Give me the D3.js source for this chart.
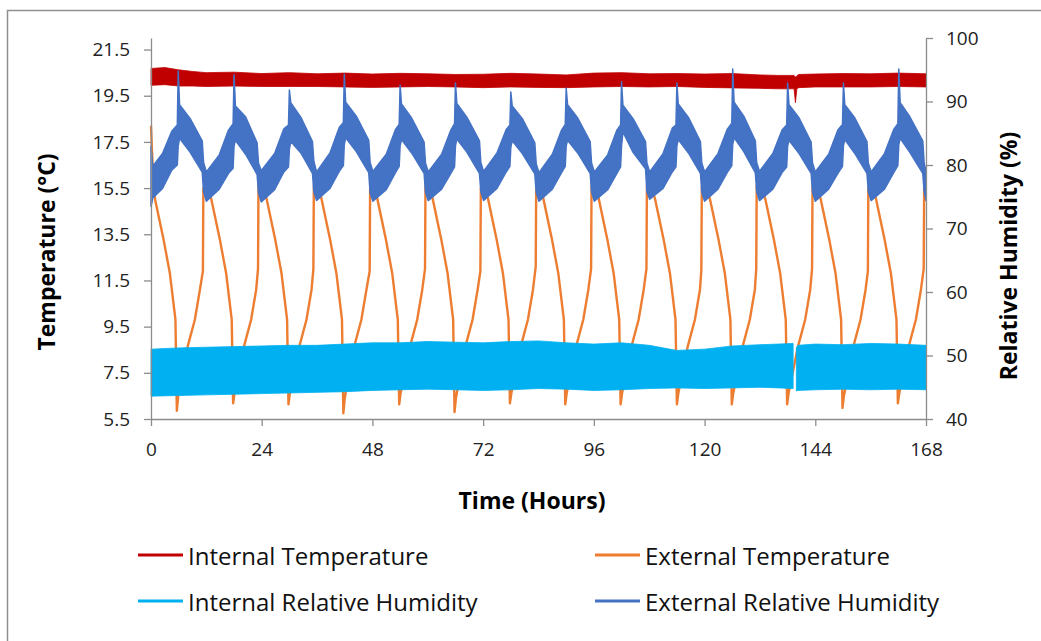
<!DOCTYPE html>
<html>
<head>
<meta charset="utf-8">
<script src="https://cdn.jsdelivr.net/npm/d3@7"></script>
<style>
body { margin: 0; background: #fff; }
text { font-family: "Open Sans", "Noto Sans", sans-serif; }
</style>
</head>
<body>
<svg id="chart" width="1041" height="641"></svg>
<script>
const timeTicks = [0, 24, 48, 72, 96, 120, 144, 168];
const tempTicks = [5.5, 7.5, 9.5, 11.5, 13.5, 15.5, 17.5, 19.5, 21.5];
const rhTicks = [40, 50, 60, 70, 80, 90, 100];

// internal temperature, read as a band: [hour, low, high] in degC
const internalTemp = [
  [0, 19.95, 20.68], [3, 19.98, 20.72], [6, 19.92, 20.62], [9, 19.92, 20.55], [12, 19.9, 20.5],
  [18, 19.92, 20.52], [24, 19.9, 20.46], [30, 19.9, 20.5], [36, 19.9, 20.45], [42, 19.88, 20.48],
  [48, 19.86, 20.44], [54, 19.88, 20.47], [60, 19.9, 20.45], [66, 19.88, 20.42], [72, 19.85, 20.43],
  [78, 19.88, 20.47], [84, 19.86, 20.44], [90, 19.85, 20.4], [96, 19.88, 20.48], [102, 19.9, 20.5],
  [108, 19.88, 20.45], [114, 19.9, 20.46], [120, 19.86, 20.44], [126, 19.84, 20.46], [132, 19.82, 20.4],
  [136, 19.8, 20.38], [139.4, 19.8, 20.38], [139.7, 19.2, 20.3], [140.0, 19.8, 20.36], [140.4, 19.85, 20.42],
  [144, 19.88, 20.44], [150, 19.88, 20.46], [156, 19.88, 20.45], [162, 19.9, 20.48], [168, 19.88, 20.45]
];

// external temperature: [hour, degC]
const externalTemp = [
  [0, 18.2], [0.4, 16.2],
  [0.9, 15.0], [2.7, 13.3], [4.1, 11.8], [5.0, 10.3], [5.3, 9.8], [5.6, 5.86], [5.9, 6.5], [6.5, 7.1], [7.9, 8.6], [9.5, 9.8], [10.6, 11.1], [11.25, 11.9], [11.35, 15.5], [12.1, 15.7],
  [13.1, 15.0], [14.9, 13.3], [16.3, 11.8], [17.2, 10.3], [17.5, 9.8], [17.8, 6.18], [18.1, 6.6], [18.7, 7.2], [20.1, 8.6], [21.7, 9.8], [22.8, 11.1], [23.2, 12.0], [23.3, 15.6], [24.1, 15.7],
  [25.1, 15.0], [26.9, 13.3], [28.3, 11.8], [29.2, 10.3], [29.5, 9.8], [29.8, 6.14], [30.1, 6.6], [30.7, 7.2], [32.1, 8.6], [33.7, 9.8], [34.8, 11.1], [35.2, 12.0], [35.3, 15.6], [36.1, 15.7],
  [37.0, 15.0], [38.8, 13.3], [40.2, 11.8], [41.1, 10.3], [41.4, 9.8], [41.7, 5.75], [42.0, 6.4], [42.6, 7.1], [44.0, 8.6], [45.6, 9.8], [46.7, 11.1], [47.4, 11.9], [47.5, 15.5], [48.3, 15.7],
  [49.1, 15.0], [50.9, 13.3], [52.3, 11.8], [53.2, 10.3], [53.5, 9.8], [53.8, 6.14], [54.1, 6.6], [54.7, 7.2], [56.1, 8.6], [57.7, 9.8], [58.8, 11.1], [59.4, 12.0], [59.5, 15.6], [60.3, 15.7],
  [61.1, 15.0], [62.9, 13.3], [64.3, 11.8], [65.2, 10.3], [65.5, 9.8], [65.8, 5.80], [66.1, 6.4], [66.7, 7.1], [68.1, 8.6], [69.7, 9.8], [70.8, 11.1], [71.4, 11.9], [71.5, 15.5], [72.3, 15.7],
  [73.1, 15.0], [74.9, 13.3], [76.3, 11.8], [77.2, 10.3], [77.5, 9.8], [77.8, 6.18], [78.1, 6.6], [78.7, 7.2], [80.1, 8.6], [81.7, 9.8], [82.8, 11.1], [83.4, 12.1], [83.5, 15.6], [84.3, 15.7],
  [85.1, 15.0], [86.9, 13.3], [88.3, 11.8], [89.2, 10.3], [89.5, 9.8], [89.8, 6.14], [90.1, 6.6], [90.7, 7.2], [92.1, 8.6], [93.7, 9.8], [94.8, 11.1], [95.4, 12.0], [95.5, 15.6], [96.3, 15.7],
  [97.1, 15.0], [98.9, 13.3], [100.3, 11.8], [101.2, 10.3], [101.5, 9.8], [101.8, 6.14], [102.1, 6.6], [102.7, 7.2], [104.1, 8.6], [105.7, 9.8], [106.8, 11.1], [107.4, 12.0], [107.5, 15.6], [108.3, 15.7],
  [109.3, 15.0], [111.1, 13.3], [112.5, 11.8], [113.4, 10.3], [113.7, 9.8], [114.0, 6.14], [114.3, 6.6], [114.9, 7.2], [116.3, 8.6], [117.9, 9.8], [119.0, 11.1], [119.3, 11.95], [119.4, 15.55], [120.2, 15.7],
  [121.2, 15.0], [123.0, 13.3], [124.4, 11.8], [125.3, 10.3], [125.6, 9.8], [125.9, 6.14], [126.2, 6.6], [126.8, 7.2], [128.2, 8.6], [129.8, 9.8], [130.9, 11.1], [131.2, 12.0], [131.3, 15.6], [132.1, 15.7],
  [133.2, 15.0], [135.0, 13.3], [136.4, 11.8], [137.3, 10.3], [137.6, 9.8], [137.9, 6.14], [138.2, 6.6], [138.8, 7.2], [140.2, 8.6], [141.8, 9.8], [142.9, 11.1], [143.3, 12.0], [143.4, 15.6], [144.2, 15.7],
  [145.2, 15.0], [147.0, 13.3], [148.4, 11.8], [149.3, 10.3], [149.6, 9.8], [149.9, 5.98], [150.2, 6.5], [150.8, 7.1], [152.2, 8.6], [153.8, 9.8], [154.9, 11.1], [155.4, 11.9], [155.5, 15.5], [156.3, 15.7],
  [157.2, 15.0], [159.0, 13.3], [160.4, 11.8], [161.3, 10.3], [161.6, 9.8], [161.9, 6.18], [162.2, 6.6], [162.8, 7.2], [164.2, 8.6], [165.8, 9.8], [166.9, 11.1], [167.5, 12.0], [167.6, 15.5], [168, 15.6]
];

// internal relative humidity band: [hour, low, high] in %, null = logger gap
const internalRH = [
  [0, 43.6, 51.0], [6, 43.7, 51.2], [12, 43.8, 51.3], [18, 43.9, 51.4], [24, 44.0, 51.5],
  [30, 44.1, 51.6], [36, 44.2, 51.6], [42, 44.3, 51.8], [48, 44.5, 52.0], [54, 44.6, 52.0],
  [60, 44.7, 52.2], [66, 44.6, 52.1], [72, 44.5, 52.0], [78, 44.6, 52.2], [84, 44.8, 52.3],
  [90, 44.7, 52.0], [96, 44.5, 51.8], [102, 44.6, 52.0], [108, 44.8, 51.6], [114, 44.9, 50.8],
  [120, 44.8, 51.0], [126, 44.9, 51.5], [132, 45.0, 51.7], [136, 44.9, 51.8], [139.2, 44.8, 51.9],
  [139.5, null, null],
  [139.9, 44.4, 51.2], [140.2, 44.5, 51.6], [144, 44.6, 51.8], [150, 44.7, 51.7], [156, 44.6, 51.9],
  [162, 44.7, 51.8], [168, 44.6, 51.6]
];

// external relative humidity band: [hour, low, high] in %
const externalRH = [
  [0, 73.5, 83.0], [0.4, 74.8, 79.8], [2.5, 76.3, 81.8], [4.5, 79.2, 85.3],
  [5.7, 80.0, 86.3], [5.9, 83.0, 94.8], [6.2, 84.2, 89.5], [8.5, 82.0, 87.3], [11.1, 78.9, 83.8], [11.4, 75.8, 80.4], [12.0, 74.3, 78.9], [14.8, 76.2, 81.6], [16.8, 78.7, 85.5],
  [17.8, 79.5, 86.5], [18.0, 83.0, 94.2], [18.3, 83.9, 89.3], [20.5, 81.7, 87.6], [23.0, 78.5, 83.5], [23.3, 75.6, 80.3], [23.9, 74.2, 79.1], [26.8, 76.1, 81.8], [28.8, 78.9, 85.7],
  [29.8, 79.7, 86.3], [30.0, 82.5, 91.8], [30.3, 83.7, 89.8], [32.5, 81.9, 87.5], [35.0, 78.7, 83.7], [35.3, 75.8, 80.6], [35.9, 74.4, 78.9], [38.8, 76.3, 81.9], [40.8, 79.0, 85.9],
  [41.7, 79.9, 86.7], [41.9, 83.2, 94.3], [42.2, 84.3, 89.9], [44.5, 82.1, 87.7], [47.2, 78.8, 83.9], [47.5, 75.6, 80.4], [48.1, 74.3, 79.0], [51.0, 76.1, 81.7], [53.0, 78.8, 85.6],
  [53.8, 79.8, 86.4], [54.0, 83.0, 92.6], [54.3, 84.0, 89.6], [56.5, 81.9, 87.4], [59.2, 78.7, 83.6], [59.5, 75.7, 80.3], [60.1, 74.4, 78.9], [63.0, 76.2, 81.7], [65.0, 78.7, 85.5],
  [65.8, 79.7, 86.5], [66.0, 83.0, 92.9], [66.3, 84.1, 89.7], [68.5, 82.0, 87.5], [71.2, 78.7, 83.8], [71.5, 75.8, 80.4], [72.1, 74.4, 79.0], [75.0, 76.3, 81.9], [77.0, 78.9, 85.6],
  [77.8, 79.8, 86.3], [78.0, 82.8, 91.5], [78.3, 83.8, 89.3], [80.5, 81.8, 87.3], [83.2, 78.6, 83.5], [83.5, 75.7, 80.2], [84.1, 74.3, 78.8], [87.0, 76.2, 81.7], [89.0, 78.8, 85.5],
  [89.8, 79.8, 86.4], [90.0, 83.0, 92.1], [90.3, 83.9, 89.5], [92.5, 81.9, 87.4], [95.2, 78.7, 83.7], [95.5, 75.8, 80.3], [96.1, 74.3, 78.9], [99.0, 76.1, 81.6], [101.0, 78.7, 85.5],
  [101.8, 79.7, 86.3], [102.0, 83.0, 93.1], [102.3, 85.2, 89.4], [104.5, 82.0, 87.3], [107.2, 79.4, 83.7], [107.5, 75.8, 80.3], [108.1, 74.6, 78.9], [111.0, 76.3, 81.8], [113.0, 78.9, 85.8],
  [113.8, 79.7, 86.3], [114.0, 83.0, 92.9], [114.3, 84.0, 89.6], [116.5, 81.9, 87.5], [119.1, 78.7, 83.7], [119.4, 75.7, 80.3], [120.0, 74.3, 78.9], [122.9, 76.2, 81.8], [124.9, 78.8, 85.6],
  [125.9, 79.9, 86.6], [126.1, 83.2, 95.1], [126.4, 84.3, 89.9], [128.5, 82.1, 87.7], [131.0, 78.8, 83.8], [131.3, 75.8, 80.4], [131.9, 74.4, 79.0], [134.8, 76.2, 81.8], [136.8, 78.8, 85.5],
  [137.8, 79.7, 86.3], [138.0, 83.0, 92.9], [138.3, 83.9, 89.5], [140.5, 81.8, 87.4], [143.1, 78.7, 83.6], [143.4, 75.7, 80.3], [144.0, 74.3, 78.9], [146.9, 76.2, 81.7], [148.9, 78.7, 85.5],
  [149.9, 79.8, 86.4], [150.1, 83.0, 92.9], [150.4, 84.0, 89.5], [152.5, 81.9, 87.5], [155.2, 78.7, 83.7], [155.5, 75.8, 80.3], [156.1, 74.4, 78.9], [159.0, 76.2, 81.8], [161.0, 78.8, 85.6],
  [161.9, 79.9, 86.5], [162.1, 83.2, 95.1], [162.4, 84.2, 89.8], [164.5, 82.0, 87.6], [167.3, 78.7, 83.8], [167.6, 75.8, 80.3], [168, 74.4, 79.1]
];

const legendItems = [
  {name: "Internal Temperature", color: "#C00000", col: 0, row: 0},
  {name: "External Temperature", color: "#ED7D31", col: 1, row: 0},
  {name: "Internal Relative Humidity", color: "#00B0F0", col: 0, row: 1},
  {name: "External Relative Humidity", color: "#4472C4", col: 1, row: 1}
];

const svg = d3.select("#chart");
const plotLeft = 151, plotRight = 926, plotTop = 38, plotBottom = 419;
const axisColor = "#8c8c8c";

// chart frame (only top and left edges show in the picture)
svg.append("path")
  .attr("d", "M7.5,641 V10.5 H1041")
  .attr("fill", "none")
  .attr("stroke", "#8f8f8f")
  .attr("stroke-width", 1.5);

const x = d3.scaleLinear().domain([0, 168]).range([plotLeft, plotRight]);
const yT = d3.scaleLinear().domain([5.5, 22.0]).range([plotBottom, plotTop]);
const yRH = d3.scaleLinear().domain([40, 100]).range([plotBottom, plotTop]);

const plot = svg.append("g");

// primary axis series
plot.append("path")
  .datum(internalTemp)
  .attr("fill", "#C00000")
  .attr("stroke", "#C00000")
  .attr("stroke-width", 0.8)
  .attr("d", d3.area().x(d => x(d[0])).y0(d => yT(d[1])).y1(d => yT(d[2])));

plot.append("path")
  .datum(externalTemp)
  .attr("fill", "none")
  .attr("stroke", "#ED7D31")
  .attr("stroke-width", 2.4)
  .attr("stroke-linejoin", "round")
  .attr("d", d3.line().x(d => x(d[0])).y(d => yT(d[1])));

// secondary axis series
plot.append("path")
  .datum(internalRH)
  .attr("fill", "#00B0F0")
  .attr("stroke", "#00B0F0")
  .attr("stroke-width", 0.8)
  .attr("d", d3.area().defined(d => d[1] != null)
    .x(d => x(d[0])).y0(d => yRH(d[1])).y1(d => yRH(d[2])));

plot.append("path")
  .datum(externalRH)
  .attr("fill", "#4472C4")
  .attr("stroke", "#4472C4")
  .attr("stroke-width", 1.5)
  .attr("stroke-linejoin", "round")
  .attr("d", d3.area().x(d => x(d[0])).y0(d => yRH(d[1])).y1(d => yRH(d[2])));

// axes
function styleAxis(g) {
  g.selectAll("path, line").attr("stroke", axisColor).attr("stroke-width", 1.3);
  g.selectAll("text").attr("fill", "#222").style("font-size", "19px")
    .style("font-family", "'Open Sans', 'Noto Sans', sans-serif");
}

svg.append("g")
  .attr("transform", `translate(${plotLeft},0)`)
  .call(d3.axisLeft(yT).tickValues(tempTicks).tickFormat(d3.format(".1f"))
    .tickSize(7).tickSizeOuter(0).tickPadding(14))
  .call(styleAxis);

svg.append("g")
  .attr("transform", `translate(${plotRight},0)`)
  .call(d3.axisRight(yRH).tickValues(rhTicks).tickSize(7).tickSizeOuter(0).tickPadding(13))
  .call(styleAxis);

svg.append("g")
  .attr("transform", `translate(0,${plotBottom})`)
  .call(d3.axisBottom(x).tickValues(timeTicks).tickSize(7).tickSizeOuter(0).tickPadding(17))
  .call(styleAxis);

// axis titles
svg.append("text")
  .attr("transform", "translate(46,252) rotate(-90)")
  .attr("text-anchor", "middle")
  .attr("dominant-baseline", "central")
  .style("font-size", "23px").style("font-weight", "bold")
  .text("Temperature (°C)");

svg.append("text")
  .attr("transform", "translate(1008,256) rotate(-90)")
  .attr("text-anchor", "middle")
  .attr("dominant-baseline", "central")
  .style("font-size", "23px").style("font-weight", "bold")
  .text("Relative Humidity (%)");

svg.append("text")
  .attr("x", 532).attr("y", 500)
  .attr("text-anchor", "middle")
  .attr("dominant-baseline", "central")
  .style("font-size", "23px").style("font-weight", "bold")
  .text("Time (Hours)");

// legend
const legend = svg.append("g")
  .selectAll("g")
  .data(legendItems)
  .join("g")
  .attr("transform", d => `translate(${d.col ? 595 : 138},${d.row ? 601 : 555})`);

legend.append("line")
  .attr("x1", 0).attr("x2", 45)
  .attr("stroke", d => d.color)
  .attr("stroke-width", 3);

legend.append("text")
  .attr("x", 50)
  .attr("dominant-baseline", "central")
  .style("font-size", "24px")
  .attr("fill", "#111")
  .text(d => d.name);
</script>
</body>
</html>
